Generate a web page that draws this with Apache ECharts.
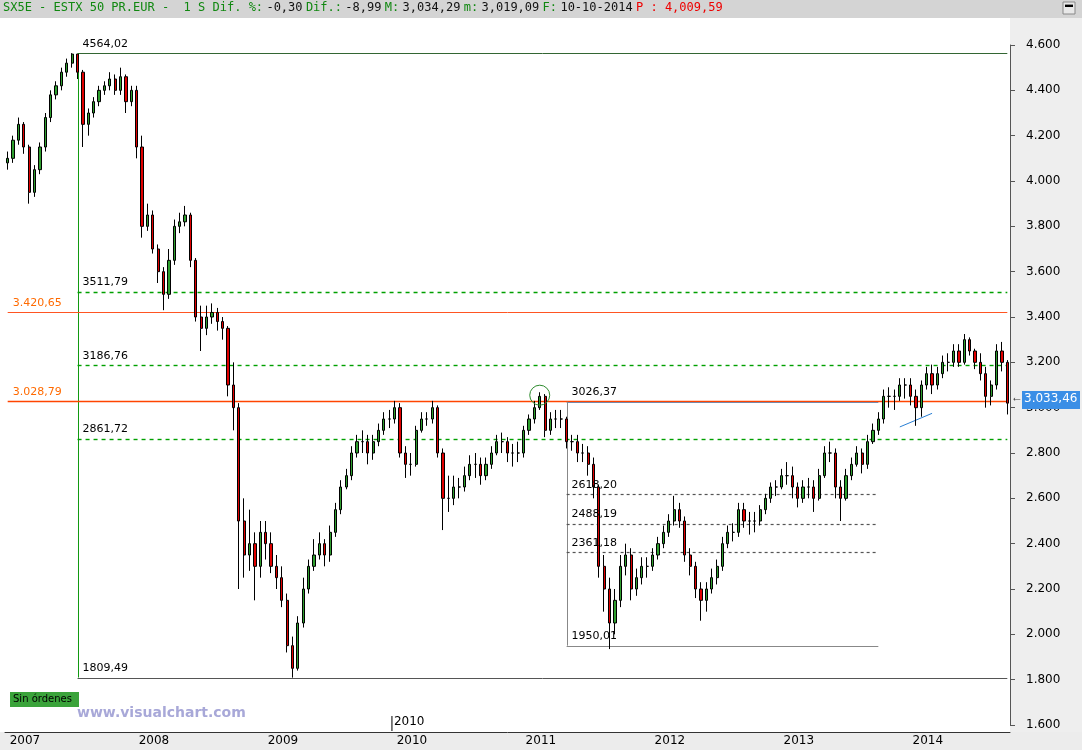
<!DOCTYPE html>
<html><head><meta charset="utf-8">
<script src="https://cdn.jsdelivr.net/npm/echarts@6/dist/echarts.min.js"></script>
<style>html,body{margin:0;padding:0;background:#fff}#c{width:1082px;height:750px}</style>
</head><body><div id="c"></div>
<script>
const years = [2007,2008,2009,2010,2011,2012,2013,2014];
const firstOpen = 4080;
const closes = [
4100,4180,4250,4150,3950,4050,4150,4280,4380,4420,4480,4520,4560,4480,4250,4300,4350,4400,4420,4450,4400,4460,4350,4400,
4150,3800,3850,3700,3600,3500,3650,3800,3820,3850,3650,3400,3350,3400,3420,3380,3350,3100,3000,2500,2350,2400,2300,2450,
2400,2300,2250,2150,1950,1850,2050,2200,2300,2350,2400,2350,2450,2550,2650,2700,2800,2850,2850,2800,2850,2900,2950,2950,
3000,2800,2750,2750,2900,2950,2950,3000,2800,2600,2600,2650,2650,2700,2750,2750,2700,2750,2800,2850,2850,2800,2800,2800,
2900,2950,3000,3050,2900,2950,2950,2950,2850,2850,2800,2800,2750,2650,2300,2200,2050,2150,2300,2350,2200,2250,2300,2300,
2350,2400,2450,2500,2550,2500,2350,2300,2200,2150,2200,2250,2300,2400,2450,2450,2550,2500,2500,2500,2550,2600,2650,2650,
2700,2700,2650,2600,2650,2650,2600,2700,2800,2800,2650,2600,2700,2750,2800,2750,2850,2900,2950,3050,3050,3050,3100,3100,
3050,3000,3100,3150,3100,3150,3200,3200,3250,3200,3300,3250,3200,3150,3050,3100,3250,3200,3020];
const highs = [
4130,4200,4280,4260,4160,4070,4170,4300,4400,4440,4500,4540,4564,4560,4490,4320,4370,4420,4440,4480,4470,4500,4470,4420,
4420,4200,3900,3870,3720,3620,3700,3830,3860,3890,3860,3660,3450,3450,3460,3440,3400,3360,3200,3020,2600,2550,2450,2500,
2500,2450,2350,2300,2180,1990,2080,2250,2330,2420,2450,2420,2480,2580,2680,2730,2830,2880,2900,2880,2880,2930,2980,2990,
3030,3020,2830,2800,2920,2980,2980,3030,3010,2820,2700,2700,2690,2740,2790,2800,2780,2780,2830,2880,2890,2870,2840,2850,
2920,2970,3030,3068,3060,2980,2990,2990,2960,2880,2880,2840,2830,2780,2660,2350,2250,2200,2350,2400,2380,2290,2340,2340,
2380,2430,2480,2530,2611,2580,2520,2380,2320,2230,2230,2290,2330,2430,2480,2490,2580,2580,2540,2540,2570,2620,2670,2680,
2730,2760,2740,2670,2680,2690,2680,2730,2830,2850,2820,2680,2730,2780,2830,2820,2880,2930,2980,3080,3090,3080,3130,3130,
3130,3080,3120,3180,3190,3180,3230,3240,3280,3280,3325,3310,3260,3240,3180,3120,3280,3290,3210];
const lows = [
4050,4080,4160,4120,3900,3930,4030,4130,4260,4360,4400,4460,4500,4450,4150,4200,4280,4330,4380,4400,4380,4380,4300,4330,
4100,3750,3780,3680,3550,3430,3480,3630,3770,3800,3620,3380,3250,3320,3370,3340,3300,3050,2900,2200,2250,2280,2150,2250,
2330,2270,2200,2120,1920,1809,1840,2030,2180,2280,2330,2300,2320,2430,2530,2640,2680,2780,2800,2750,2770,2830,2880,2910,
2930,2780,2690,2700,2740,2890,2920,2930,2780,2460,2540,2570,2600,2630,2680,2690,2660,2680,2730,2790,2800,2760,2740,2760,
2780,2880,2930,2990,2870,2880,2910,2910,2820,2810,2760,2760,2700,2600,2250,2100,1935,2000,2120,2260,2150,2170,2220,2250,
2280,2330,2380,2430,2480,2470,2320,2260,2160,2060,2100,2180,2220,2280,2380,2410,2430,2470,2440,2450,2480,2530,2580,2610,
2640,2660,2600,2560,2580,2600,2540,2590,2690,2760,2600,2500,2590,2680,2740,2710,2730,2840,2880,2930,3000,2990,3030,3040,
3010,2920,2960,3080,3060,3080,3130,3160,3180,3180,3190,3230,3170,3120,3000,3010,3080,3160,2970];

const cats = closes.map((c,i)=> years[Math.floor(i/24)] + '-' + (i%24));
const ohlc = closes.map((c,i)=>[i===0?firstOpen:closes[i-1], c, lows[i], highs[i]]);
const fmt = v => v.toLocaleString('de-DE');
const last = cats.length-1;
const X0 = -0.5, XE = last+0.4;

// reference lines: [x1, y1, x2, y2, colour, dash, width, label, labelColour]
const refLines = [
  [13,4564.02,XE,4564.02,'#336633','solid',1,'4564,02'],
  [13,4564.02,13,1809.49,'#119911','solid',1],
  [13,1809.49,XE,1809.49,'#555','solid',1,'1809,49'],
  [13,3511.79,XE,3511.79,'#00a000',[4,4],1.4,'3511,79'],
  [13,3186.76,XE,3186.76,'#00a000',[4,4],1.4,'3186,76'],
  [13,2861.72,XE,2861.72,'#00a000',[4,4],1.4,'2861,72'],
  [X0,3420.65,XE,3420.65,'#ff5522','solid',1,'3.420,65','#ff6a00'],
  [X0,3028.79,XE,3028.79,'#ff4400','solid',1.3,'3.028,79','#ff6a00'],
  [104,3026.37,162,3026.37,'#7788aa','solid',1,'3026,37'],
  [104,3026.37,104,1950.01,'#888','solid',1],
  [104,2618.20,162,2618.20,'#555',[3,3],1.2,'2618,20'],
  [104,2488.19,162,2488.19,'#555',[3,3],1.2,'2488,19'],
  [104,2361.18,162,2361.18,'#555',[3,3],1.2,'2361,18'],
  [104,1950.01,162,1950.01,'#888','solid',1,'1950,01'],
  [166,2915,172,2975,'#2a7fd4','solid',1]
];

const chart = echarts.init(document.getElementById('c'));
chart.setOption({
  animation:false,
  backgroundColor:'#fff',
  grid:{left:5,right:72,top:45,bottom:25},
  xAxis:{type:'category',data:cats,boundaryGap:true,offset:7,
    axisLine:{lineStyle:{color:'#333'}},
    axisTick:{interval:(i)=>i%24===0,length:-6,lineStyle:{color:'#000'}},
    axisLabel:{interval:(i)=>i%24===0,formatter:v=>v.split('-')[0],color:'#000',fontSize:12,fontFamily:'DejaVu Sans',align:'left',margin:3,padding:[0,0,0,2]},
    splitLine:{show:false}},
  yAxis:{type:'value',position:'right',min:1600,max:4600,interval:200,
    axisLine:{show:true,lineStyle:{color:'#555'}},
    axisTick:{show:true,length:5,lineStyle:{color:'#555'}},
    axisLabel:{formatter:v=>fmt(v),color:'#000',fontSize:12,fontFamily:'DejaVu Sans',margin:16},
    splitLine:{show:false}},
  series:[
    {type:'candlestick',data:ohlc,barMaxWidth:4,z:3,
     itemStyle:{color:'#2e9e2e',color0:'#e00000',borderColor:'#000',borderColor0:'#000',borderWidth:1}}
  ]
});

const px = (x,y) => chart.convertToPixel({xAxisIndex:0,yAxisIndex:0},[x,y]);
const snap = v => Math.round(v)+0.5;
const g = [];
refLines.forEach(r => {
  const a = px(r[0],r[1]), b = px(r[2],r[3]);
  const vertical = r[0]===r[2], horiz = r[1]===r[3];
  const x1 = vertical?snap(a[0]):a[0], x2 = vertical?snap(b[0]):b[0];
  const y1 = horiz?snap(a[1]):a[1], y2 = horiz?snap(b[1]):b[1];
  g.push({type:'line',z:1,shape:{x1,y1,x2,y2},style:{stroke:r[4],lineWidth:r[6],lineDash:r[5]==='solid'?null:r[5]}});
  if (r[7]) g.push({type:'text',z:5,left:a[0]+5,top:a[1]-15,style:{text:r[7],fill:r[8]||'#000',fontSize:11,fontFamily:'DejaVu Sans'}});
});
const cp = px(99,3055);
const pp = chart.convertToPixel({yAxisIndex:0},3033.46);
const x2010 = chart.convertToPixel({xAxisIndex:0},72) - 2.7;
chart.setOption({graphic:g.concat([
  {type:'rect',z:-10,shape:{x:0,y:0,width:1082,height:18},style:{fill:'#d4d4d4'}},
  {type:'rect',z:-10,shape:{x:1010,y:18,width:72,height:714},style:{fill:'#eeeeee'}},
  {type:'rect',z:-10,shape:{x:0,y:732,width:1082,height:18},style:{fill:'#ececec'}},
  {type:'text',left:3,top:2,z:10,style:{text:'{g|SX5E - ESTX 50 PR.EUR -  1 S Dif. %:} {k|-0,30} {g|Dif.:} {k|-8,99} {g|M:} {k|3,034,29} {g|m:} {k|3,019,09} {g|F:} {k|10-10-2014} {r|P : 4,009,59}',
    rich:{g:{fill:'#118811',fontSize:12,fontFamily:'DejaVu Sans Mono'},k:{fill:'#111',fontSize:12,fontFamily:'DejaVu Sans Mono'},r:{fill:'#ee0000',fontSize:12,fontFamily:'DejaVu Sans Mono'}}}},
  {type:'rect',z:10,shape:{x:1063,y:2,width:12,height:12},style:{fill:'#e8e8e8',stroke:'#888'}},
  {type:'text',z:11,left:1065,top:1,style:{text:'▬',fontSize:8,fill:'#000'}},
  {type:'circle',z:10,shape:{cx:cp[0],cy:cp[1],r:10},style:{fill:'none',stroke:'#2e8b2e',lineWidth:1}},
  {type:'rect',z:10,shape:{x:1022,y:pp-9,width:58,height:18},style:{fill:'#3a8ee6'}},
  {type:'text',z:11,left:1024,top:pp-7,style:{text:'3.033,46',fill:'#fff',fontSize:12,fontFamily:'DejaVu Sans'}},
  {type:'text',z:11,left:1011,top:pp-8,style:{text:'←',fill:'#333',fontSize:12}},
  {type:'rect',z:10,shape:{x:10,y:692,width:69,height:15},style:{fill:'#3aa33a'}},
  {type:'text',z:11,left:13,top:694,style:{text:'Sin órdenes',fill:'#000',fontSize:10,fontFamily:'DejaVu Sans'}},
  {type:'text',z:11,left:77,top:706,style:{text:'www.visualchart.com',fill:'#a8a8d8',fontSize:14,fontWeight:'bold',fontFamily:'DejaVu Sans'}},
  {type:'line',z:11,shape:{x1:x2010,y1:716,x2:x2010,y2:731},style:{stroke:'#000'}},
  {type:'text',z:11,left:x2010+2,top:716,style:{text:'2010',fill:'#000',fontSize:12,fontFamily:'DejaVu Sans'}}
])});
</script></body></html>
